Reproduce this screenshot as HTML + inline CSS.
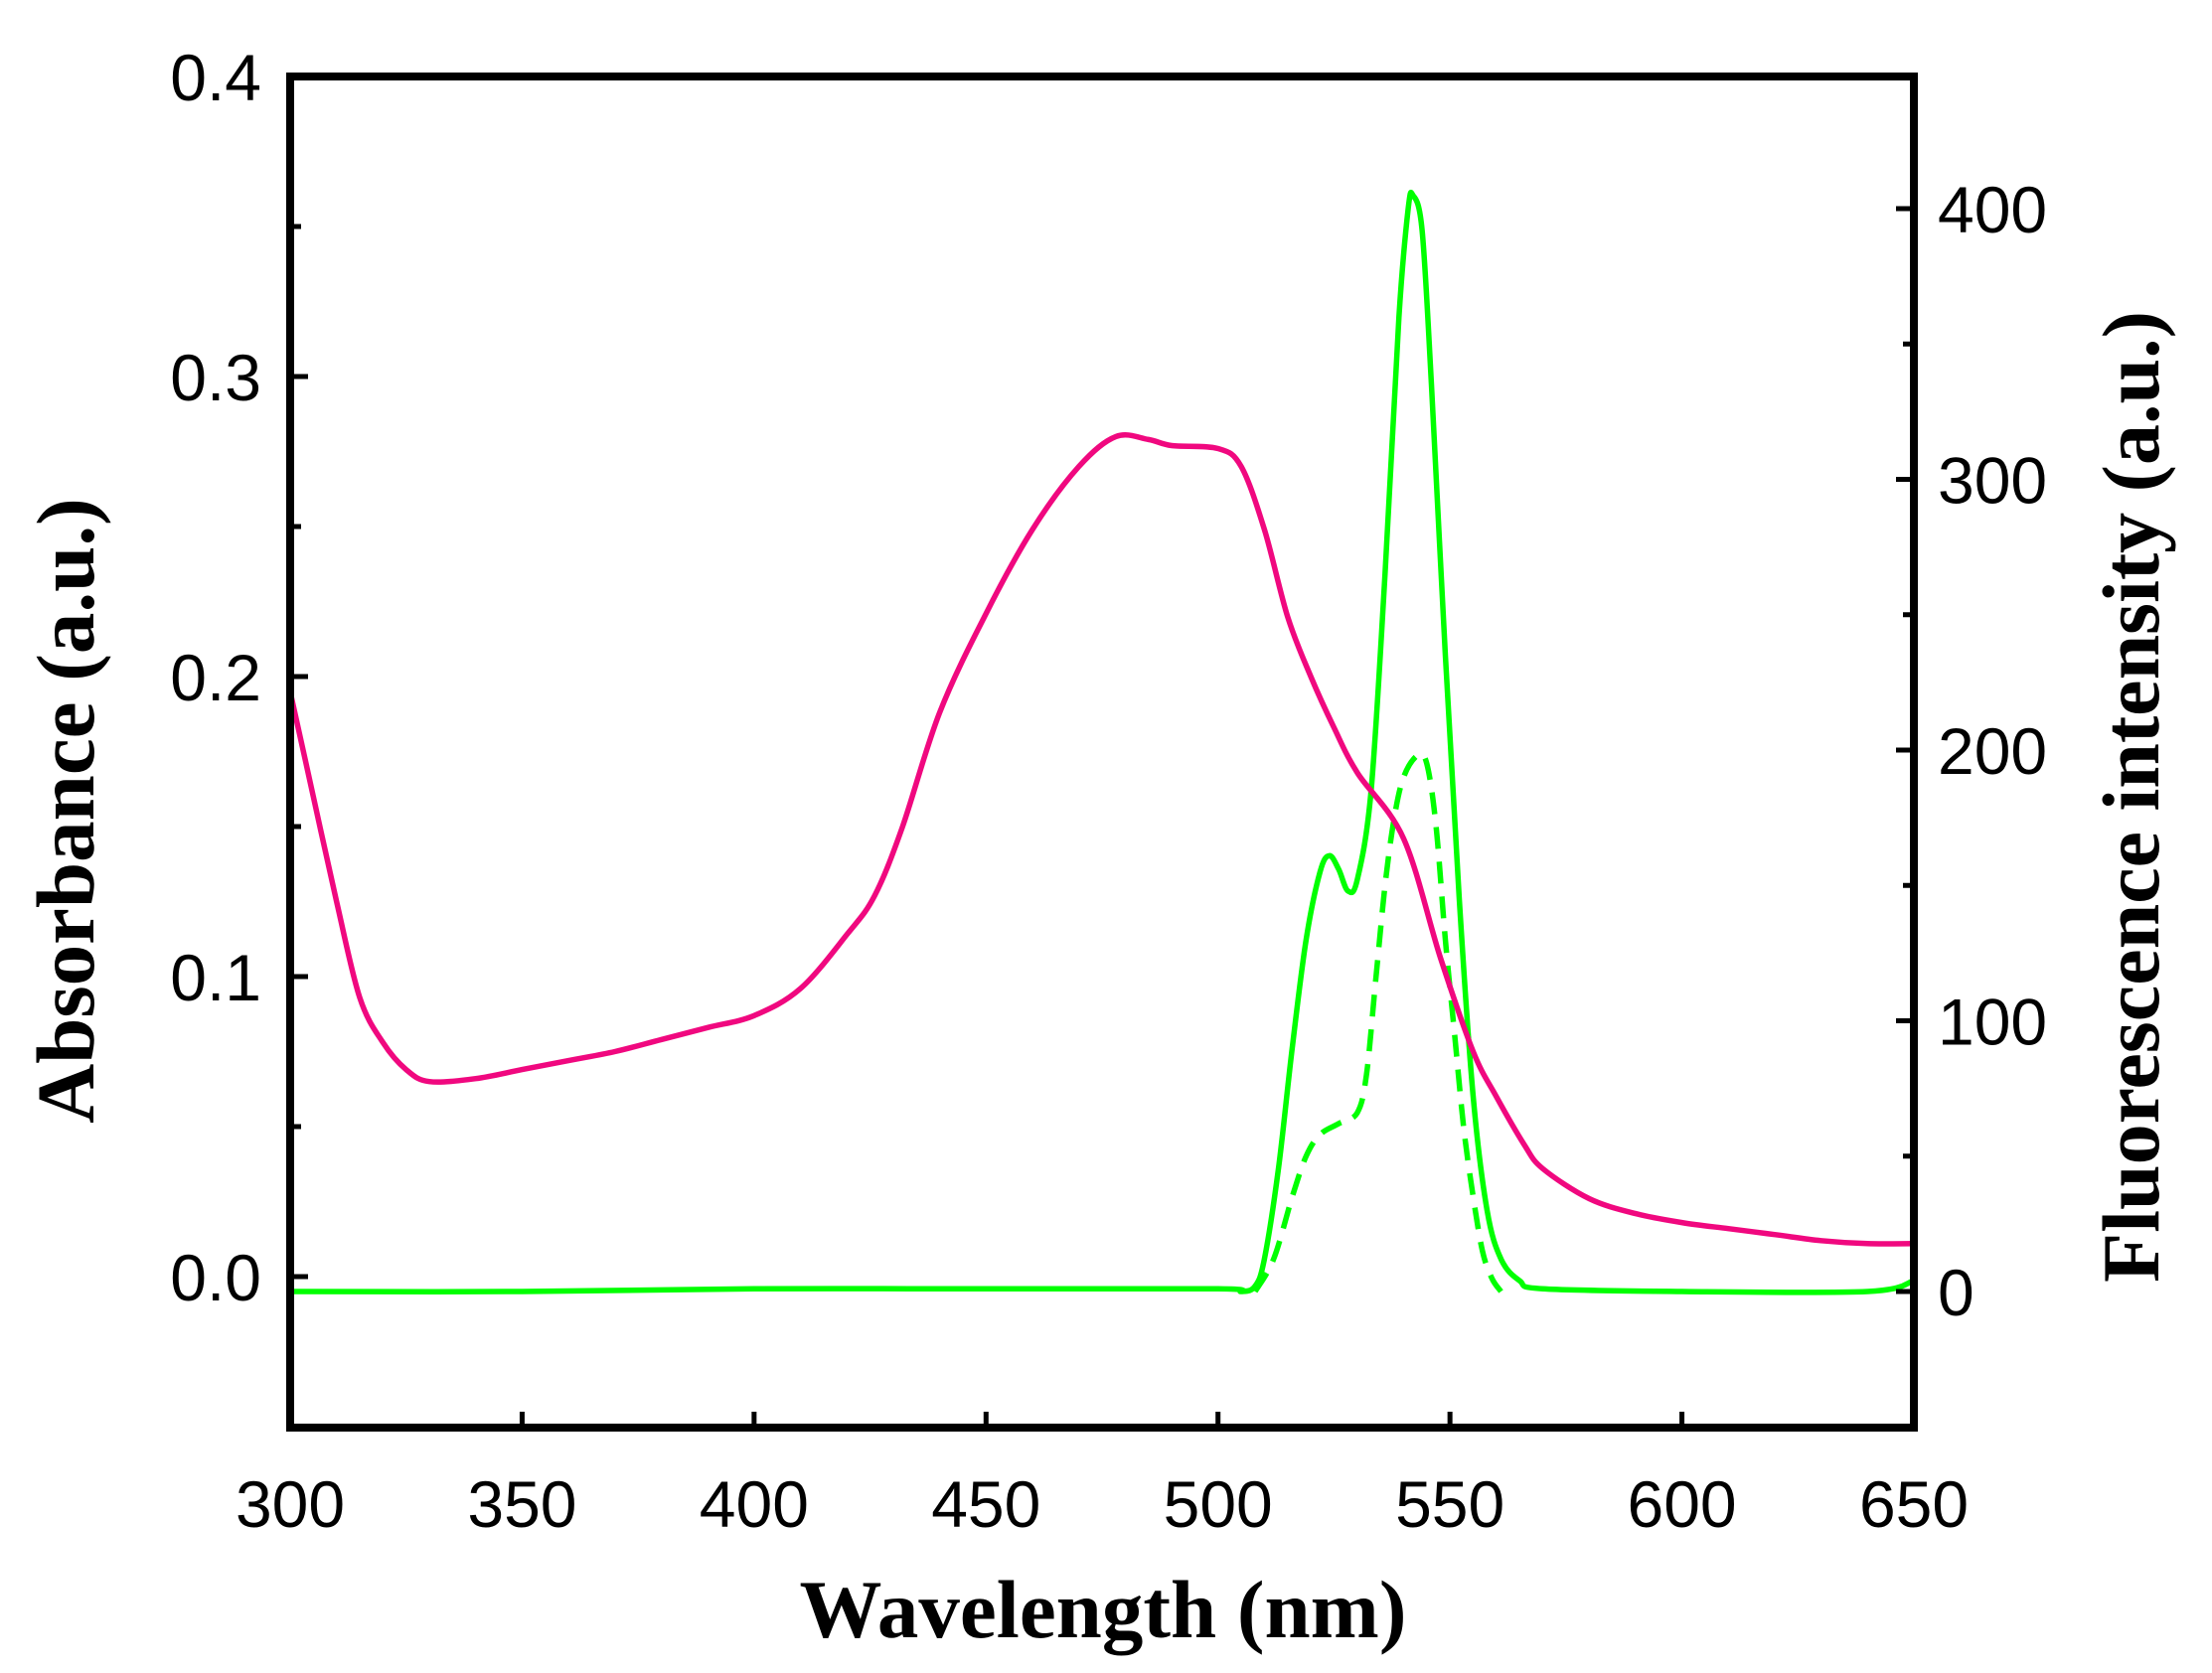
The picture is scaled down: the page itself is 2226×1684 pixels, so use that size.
<!DOCTYPE html>
<html><head><meta charset="utf-8"><style>
html,body{margin:0;padding:0;background:#fff;}
svg{display:block;}
</style></head><body>
<svg id="chart" width="2226" height="1684" viewBox="0 0 2226 1684" xmlns="http://www.w3.org/2000/svg">
<g id="curves"></g>
<g id="axes"></g>
<text x="1110" y="1648" font-family="Liberation Serif, serif" font-weight="bold" font-size="83" text-anchor="middle">Wavelength (nm)</text>
<text transform="translate(94,816) rotate(-90)" font-family="Liberation Serif, serif" font-weight="bold" font-size="83" text-anchor="middle">Absorbance (a.u.)</text>
<text transform="translate(2172,802) rotate(-90)" font-family="Liberation Serif, serif" font-weight="bold" font-size="82" text-anchor="middle">Fluorescence intensity (a.u.)</text>
</svg>
<script>
const absWl = [300,305,310,315,320,325,330,340,350,360,370,380,390,400,410,420,426,432,440,450,460,470,478,485,490,500,505,510,515,520,525,530,540,548,555,560,566,570,580,590,600,610,620,630,640,650];
const absVal = [0.195,0.16,0.125,0.093,0.078,0.069,0.065,0.066,0.069,0.072,0.075,0.079,0.083,0.087,0.096,0.114,0.127,0.150,0.188,0.221,0.249,0.270,0.280,0.279,0.277,0.276,0.270,0.249,0.220,0.200,0.183,0.168,0.146,0.106,0.075,0.060,0.044,0.036,0.026,0.021,0.018,0.016,0.014,0.012,0.011,0.011];
const flWl = [300,350,400,450,500,505,508,510,513,516,519,522,524,526,528,530,533,536,539,541,542,544,546,549,552,555,558,561,565,570,600,640,650];
const flVal = [0,0,1,1,1,0,2,12,45,90,130,155,161,156,148,152,185,265,360,400,405,392,335,235,145,72,30,12,4,1,0,0,4];
const dWl = [508,512,516,519,522,526,530,532,534,536,538,540,543,545,547,549,551,553,555,557,559,561];
const dVal = [0,12,35,50,58,62,66,80,115,150,175,190,198,195,172,130,95,60,35,15,5,0];
const xTicks = [300,350,400,450,500,550,600,650];
const yLeftTicks = ["0.0","0.1","0.2","0.3","0.4"];
const yRightTicks = [0,100,200,300,400];

const X0=292,X1=1926,YT=77,YB=1437;
const xs = v => X0 + (v-300)/350*(X1-X0);
const yL = v => 1285 - v*3020;
const yR = v => 1300 - v*2.725;
const NS="http://www.w3.org/2000/svg";
function mk(tag,attrs,parent){const e=document.createElementNS(NS,tag);for(const k in attrs)e.setAttribute(k,attrs[k]);parent.appendChild(e);return e;}
function smooth(pts){let d=`M${pts[0][0]},${pts[0][1]}`;for(let i=0;i<pts.length-1;i++){const p0=pts[Math.max(0,i-1)],p1=pts[i],p2=pts[i+1],p3=pts[Math.min(pts.length-1,i+2)];
const c1=[p1[0]+(p2[0]-p0[0])/6,p1[1]+(p2[1]-p0[1])/6],c2=[p2[0]-(p3[0]-p1[0])/6,p2[1]-(p3[1]-p1[1])/6];
d+=` C${c1[0].toFixed(1)},${c1[1].toFixed(1)} ${c2[0].toFixed(1)},${c2[1].toFixed(1)} ${p2[0].toFixed(1)},${p2[1].toFixed(1)}`;}return d;}
const curves=document.getElementById('curves');
const axes=document.getElementById('axes');
const clip=mk('clipPath',{id:'pc'},curves);mk('rect',{x:X0,y:YT,width:X1-X0,height:YB-YT},clip);
let p=mk('path',{d:smooth(flWl.map((w,i)=>[xs(w),yR(flVal[i])])),fill:'none',stroke:'#00ff00','stroke-width':5.5,'clip-path':'url(#pc)'},curves);


p=mk('path',{d:smooth(dWl.map((w,i)=>[xs(w),yR(dVal[i])])),fill:'none',stroke:'#00ff00','stroke-width':5.5,'stroke-dasharray':'22 13'},curves);


p=mk('path',{d:smooth(absWl.map((w,i)=>[xs(w),yL(absVal[i])])),fill:'none',stroke:'#f0087f','stroke-width':5.5,'clip-path':'url(#pc)'},curves);


const F='Liberation Sans, sans-serif';
xTicks.forEach(v=>{const x=xs(v);
 if(v>300&&v<650){const t=mk('line',{x1:x,x2:x,y1:YB,y2:YB-16,stroke:'#000','stroke-width':5},axes);
 }
 const l=mk('text',{x:x,y:1537,'font-family':F,'font-size':66,'text-anchor':'middle'},axes);l.textContent=v;
 });
for(let v=-0.05;v<0.41;v+=0.05){const y=yL(v);const major=Math.abs(Math.round(v*10)-v*10)<1e-6;
 const t=mk('line',{x1:X0,x2:X0+(major?18:11),y1:y,y2:y,stroke:'#000','stroke-width':5},axes);
 }
yLeftTicks.forEach(s=>{const l=mk('text',{x:263,y:yL(parseFloat(s))+24,'font-family':F,'font-size':66,'text-anchor':'end'},axes);l.textContent=s;
 });
for(let v=0;v<=400;v+=50){const y=yR(v);const major=v%100===0;
 const t=mk('line',{x1:X1,x2:X1-(major?18:11),y1:y,y2:y,stroke:'#000','stroke-width':5},axes);
 }
yRightTicks.forEach(v=>{const l=mk('text',{x:1950,y:yR(v)+24,'font-family':F,'font-size':66},axes);l.textContent=v;
 });
const fr=mk('rect',{x:X0,y:YT,width:X1-X0,height:YB-YT,fill:'none',stroke:'#000','stroke-width':8},axes);


</script>
</body></html>
